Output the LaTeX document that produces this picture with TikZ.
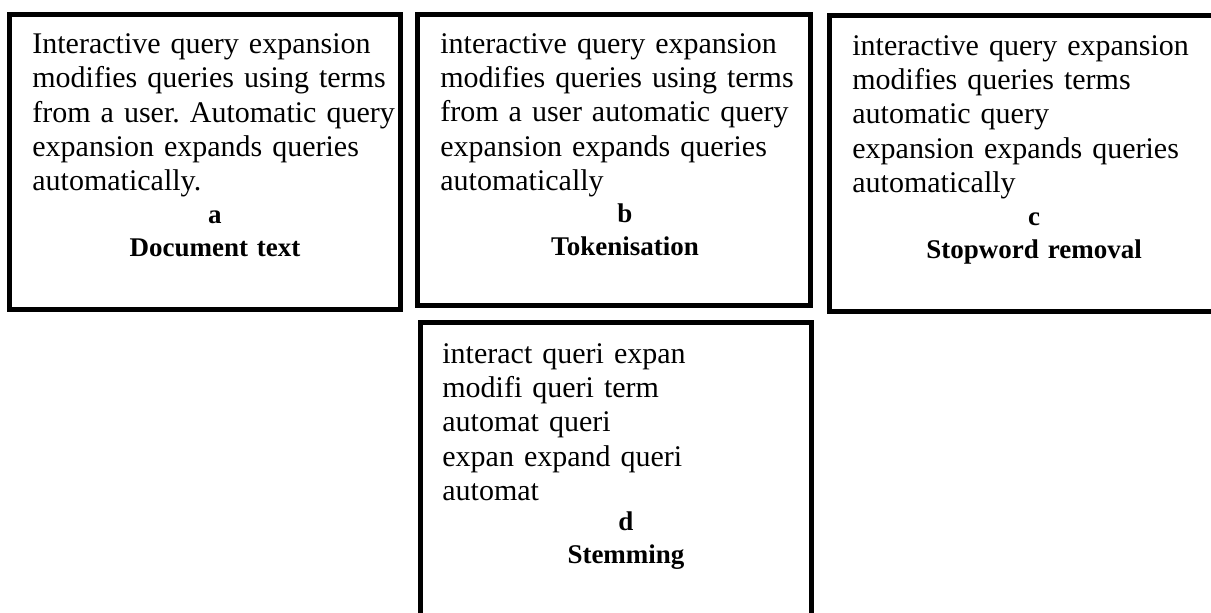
\documentclass[tikz,border=0pt]{standalone}
\usepackage{fontspec}
\setmainfont{Liberation Serif}
\frenchspacing
\usetikzlibrary{positioning}
\tikzset{
 panel/.style={draw, line width=2.5pt, inner sep=0pt, outer sep=0pt},
 stagetext/.style={anchor=base west, inner sep=0pt, text width=190pt, align=left,
  font=\fontsize{15pt}{17.2pt}\selectfont},
 stagelabel/.style={anchor=base, inner sep=0pt, text width=120pt, align=center,
  font=\fontsize{13.5pt}{16.5pt}\selectfont\bfseries},
}

\begin{document}
\begin{tikzpicture}[x=0.5pt, y=-0.5pt]
 \useasboundingbox (0, 0) rectangle (1211, 612);
 \clip (0, 0) rectangle (1211, 612);

 % the four panels (c and d run off the page)
 \node [panel, minimum width=195.5pt, minimum height=147.5pt] (doc) at (205, 162) {};
 \node [panel, minimum width=196.2pt, minimum height=145.7pt] (tok) at (613.8, 160.2) {};
 \node [panel, minimum width=193pt, minimum height=148pt] (stop) at (1022.5, 163.5) {};
 \node [panel, minimum width=195.5pt, minimum height=150pt] (stem) at (616, 472.5) {};

 \node [stagetext] (doc_text) at (32, 53.3) {Interactive query expansion\\
  modifies queries using terms\\ from a user. Automatic query\\
  expansion expands queries\\ automatically.};
 \node [stagelabel] (doc_label) at (215, 223) {a\\ Document text};

 \node [stagetext] (tok_text) at (440, 53) {interactive query expansion\\
  modifies queries using terms\\ from a user automatic query\\
  expansion expands queries\\ automatically};
 \node [stagelabel] (tok_label) at (625, 222) {b\\ Tokenisation};

 \node [stagetext] (stop_text) at (852, 55) {interactive query expansion\\
  modifies queries terms\\ automatic query\\
  expansion expands queries\\ automatically};
 \node [stagelabel] (stop_label) at (1034, 225) {c\\ Stopword removal};

 \node [stagetext] (stem_text) at (442, 363) {interact queri expan\\
  modifi queri term\\ automat queri\\ expan expand queri\\ automat};
 \node [stagelabel] (stem_label) at (626, 530) {d\\ Stemming};
\end{tikzpicture}
\end{document}
